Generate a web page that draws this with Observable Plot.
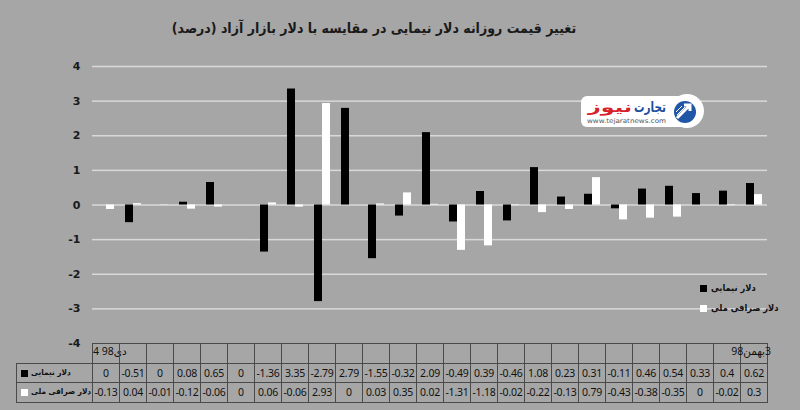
<!DOCTYPE html>
<html><head><meta charset="utf-8">
<script src="https://cdn.jsdelivr.net/npm/d3@7"></script>
<script src="https://cdn.jsdelivr.net/npm/@observablehq/plot@0.6"></script>
<style>
body{margin:0;background:#a6a6a6;}
#wrap{position:relative;width:800px;height:410px;background:#a6a6a6;overflow:hidden;font-family:"Noto Sans","DejaVu Sans",sans-serif;color:#111;}
#title{height:50px;width:748px;text-align:center;font-family:"DejaVu Sans Condensed","DejaVu Sans",sans-serif;font-stretch:condensed;font-weight:bold;font-size:14px;line-height:56px;color:#1a1a1a;direction:rtl;}
.cell{position:absolute;box-sizing:border-box;border-left:1px solid #4a4a4a;border-top:1px solid #4a4a4a;font-size:10.5px;letter-spacing:-0.2px;text-align:center;white-space:nowrap;}
.lab{position:absolute;white-space:nowrap;font-size:10.5px;}
.sq{position:absolute;width:7px;height:7px;}
.leg{position:absolute;white-space:nowrap;font-family:"DejaVu Sans Condensed","DejaVu Sans",sans-serif;font-stretch:condensed;font-size:8.2px;font-weight:bold;color:#111;direction:rtl;}
.leg2{font-size:9.2px;}
</style>
</head><body>
<div id="wrap">
<div id="title">تغییر قیمت روزانه دلار نیمایی در مقایسه با دلار بازار آزاد (درصد)</div>
<div id="chart"></div>
<svg id="logo" width="130" height="42" style="position:absolute;left:576px;top:90px">
  <rect x="5" y="6" width="110" height="31" rx="6" fill="#ffffff"/>
  <circle cx="111" cy="21" r="17" fill="#ffffff"/>
  <circle cx="109" cy="22" r="11" fill="#1f56a6"/>
  <path d="M101 28 L113 16 M108 15 L114 15 L114 21" stroke="#ffffff" stroke-width="3" fill="none"/>
  <path d="M100 22 L106 16 M101 25 L109 17" stroke="#ffffff" stroke-width="1" fill="none"/>
  <text x="58" y="22" textLength="32" lengthAdjust="spacingAndGlyphs" font-family="DejaVu Sans" font-weight="bold" font-size="14" fill="#1f4f9c">تجارت</text>
  <text x="12" y="22" textLength="44" lengthAdjust="spacingAndGlyphs" font-family="DejaVu Sans" font-weight="bold" font-size="14" fill="#d6202a">نیوز</text>
  <text x="11" y="33" textLength="79" lengthAdjust="spacingAndGlyphs" font-family="DejaVu Sans" font-size="6.5" fill="#555">www.tejaratnews.com</text>
</svg>
</div>
<script>
const seriesNames = ["دلار نیمایی", "دلار صرافی ملی"];
const seriesColors = ["#000000", "#ffffff"];
const dayLabels = ["4 98\u200Eدی","","","","","","","","","","","","","","","","","","","","","","","","98\u200Eبهمن\u200E3"];
const nimaei = [0, -0.51, 0, 0.08, 0.65, 0, -1.36, 3.35, -2.79, 2.79, -1.55, -0.32, 2.09, -0.49, 0.39, -0.46, 1.08, 0.23, 0.31, -0.11, 0.46, 0.54, 0.33, 0.4, 0.62];
const sarafi = [-0.13, 0.04, -0.01, -0.12, -0.06, 0, 0.06, -0.06, 2.93, 0, 0.03, 0.35, 0.02, -1.31, -1.18, -0.02, -0.22, -0.13, 0.79, -0.43, -0.38, -0.35, 0, -0.02, 0.3];
const yTicks = [-4, -3, -2, -1, 0, 1, 2, 3, 4];
const gridValues = [-3, -2, -1, 0, 1, 2, 3, 4];

const days = dayLabels.map((d, i) => i);
const seriesValues = [nimaei, sarafi];
const rows = [];
days.forEach(i => seriesNames.forEach((s, k) => rows.push({day: i, series: s, value: seriesValues[k][i]})));

const SVG_TOP = 50;
const plot = Plot.plot({
  width: 800, height: 360,
  marginTop: 16, marginBottom: 67, marginLeft: 89, marginRight: 30,
  style: {background: "transparent", fontFamily: "DejaVu Sans", fontSize: "11px", color: "#1a1a1a", overflow: "visible"},
  fx: {domain: days, padding: 0, axis: null},
  x: {domain: seriesNames, paddingInner: 0, paddingOuter: 0.64, axis: null},
  y: {domain: [-4, 4], label: null},
  color: {domain: seriesNames, range: seriesColors},
  marks: [
    Plot.ruleY(gridValues, {stroke: "#d9d9d9", strokeWidth: 1.5}),
    Plot.axisY({ticks: yTicks, tickSize: 0, tickPadding: 12, fontWeight: "bold", label: null, tickFormat: d => String(d), fill: "#1a1a1a"}),
    Plot.barY(rows, {fx: "day", x: "series", y: "value", fill: "series"})
  ]
});
document.getElementById("chart").appendChild(plot);

// data table under the chart
const wrap = document.getElementById("wrap");
const fx = plot.scale("fx");
const yS = plot.scale("y");
const step = fx.step;
const tableTop = SVG_TOP + yS.apply(-4);
const rowH = 19.7;
const left0 = fx.apply(days[0]);
function cell(x, y, w, h, txt, extra) {
  const c = document.createElement("div");
  c.className = "cell";
  c.style.left = x + "px"; c.style.top = y + "px";
  c.style.width = w + "px"; c.style.height = h + "px";
  c.style.lineHeight = (h - 1) + "px";
  if (txt != null) c.textContent = txt;
  if (extra) Object.assign(c.style, extra);
  wrap.appendChild(c);
  return c;
}
days.forEach((d, i) => {
  const x = fx.apply(d);
  const last = i === days.length - 1;
  const br = last ? {borderRight: "1px solid #4a4a4a", width: (step + 1) + "px"} : null;
  cell(x, tableTop, step, rowH, null, br);
  cell(x, tableTop + rowH, step, rowH, String(nimaei[i]), br);
  cell(x, tableTop + 2 * rowH, step, rowH, String(sarafi[i]), Object.assign({borderBottom: "1px solid #4a4a4a", height: (rowH + 1) + "px"}, br || {}));
  if (dayLabels[i]) {
    const l = document.createElement("div");
    l.className = "lab";
    l.textContent = dayLabels[i];
    l.style.top = (tableTop + 1) + "px";
    if (last) { l.style.right = (800 - (x + step) - 4) + "px"; }
    else { l.style.left = (x + 1) + "px"; }
    wrap.appendChild(l);
  }
});
// row headers
const hx = 16;
seriesNames.forEach((s, k) => {
  const y = tableTop + (k + 1) * rowH;
  cell(hx, y, left0 - hx, rowH + (k === 1 ? 1 : 0), null, k === 1 ? {borderBottom: "1px solid #4a4a4a"} : null);
  const sq = document.createElement("div");
  sq.className = "sq";
  sq.style.background = seriesColors[k];
  sq.style.left = (hx + 5) + "px"; sq.style.top = (y + 7) + "px";
  wrap.appendChild(sq);
  const t = document.createElement("div");
  t.className = "leg";
  t.textContent = s;
  t.style.left = (hx + 15) + "px"; t.style.top = (y + 4) + "px";
  wrap.appendChild(t);
});
// legend
const legX = 700, legY = [285, 305];
seriesNames.forEach((s, k) => {
  const sq = document.createElement("div");
  sq.className = "sq";
  sq.style.background = seriesColors[k];
  sq.style.left = legX + "px"; sq.style.top = legY[k] + "px";
  wrap.appendChild(sq);
  const t = document.createElement("div");
  t.className = "leg leg2";
  t.textContent = s;
  t.style.left = (legX + 11) + "px"; t.style.top = (legY[k] - 3) + "px";
  wrap.appendChild(t);
});
</script>
</body></html>
